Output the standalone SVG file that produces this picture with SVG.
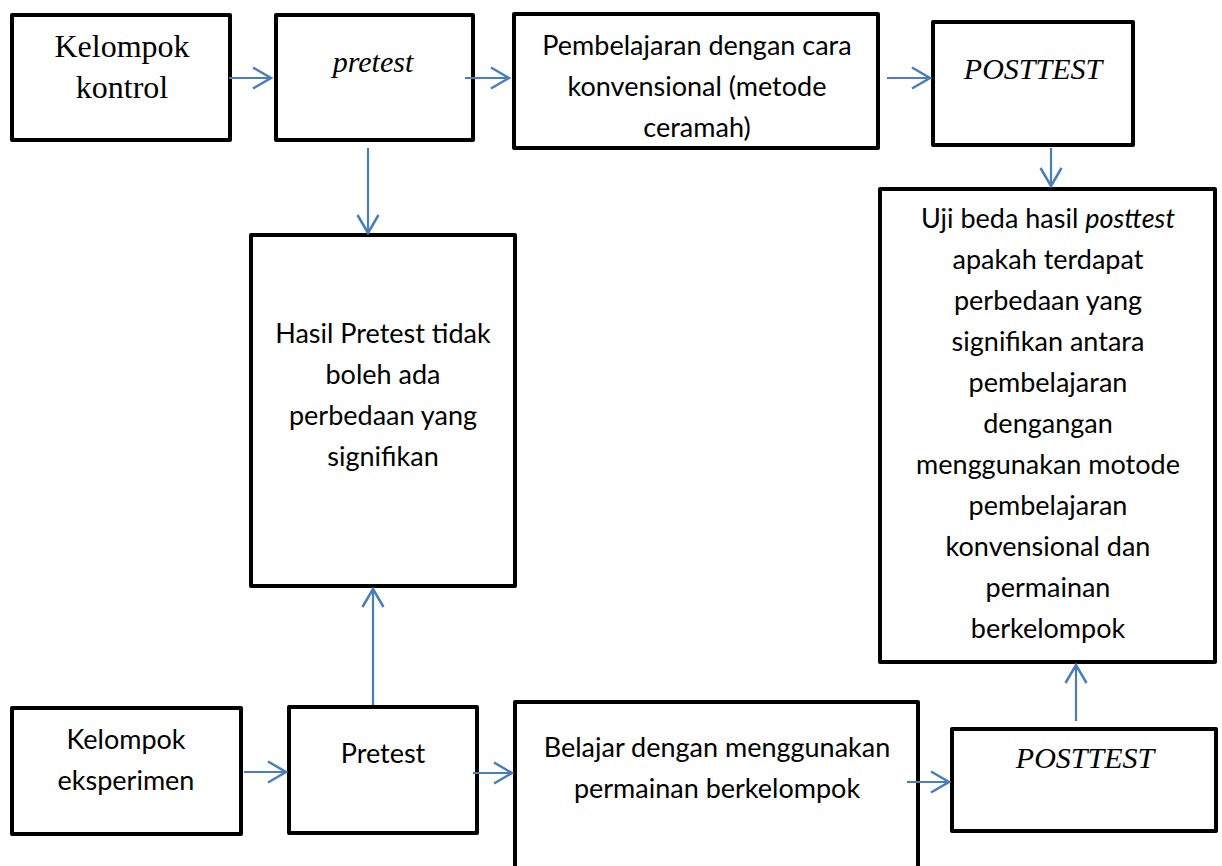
<svg xmlns="http://www.w3.org/2000/svg" width="1222" height="866" viewBox="0 0 1222 866">
<style>
.box{fill:#fff;stroke:#000;stroke-width:4;stroke-linejoin:round}
.c{font-family:Lato,"Open Sans","Liberation Sans",sans-serif;font-size:27px;fill:#000;text-anchor:middle}
.t{font-family:"Liberation Serif","Times New Roman",serif;font-size:32px;fill:#000;text-anchor:middle}
.ti{font-family:"Liberation Serif","Times New Roman",serif;font-size:30px;font-style:italic;fill:#000;text-anchor:middle}
.con{stroke:#4a7ebb;stroke-width:2.2;fill:none}
</style>
<defs>
<marker id="ah" markerUnits="userSpaceOnUse" markerWidth="26" markerHeight="28" viewBox="-22 -14 26 28" refX="0" refY="0" orient="auto">
<path d="M-18,-10.5 L0,0 L-18,10.5" fill="none" stroke="#4a7ebb" stroke-width="2.5"/>
</marker>
</defs>
<rect width="1222" height="866" fill="#fff"/>
<g id="kelompok-kontrol">
<rect class="box" x="12" y="15" width="218" height="125"/>
<text class="t" x="122" y="57">Kelompok</text>
<text class="t" x="122" y="98">kontrol</text>
</g>
<g id="pretest-kontrol">
<rect class="box" x="276" y="15" width="197" height="125"/>
<text class="ti" x="373" y="72">pretest</text>
</g>
<g id="pembelajaran-konvensional">
<rect class="box" x="514" y="14" width="364" height="134"/>
<text class="c" x="697" y="55">Pembelajaran dengan cara</text>
<text class="c" x="697" y="96">konvensional (metode</text>
<text class="c" x="697" y="137">ceramah)</text>
</g>
<g id="posttest-kontrol">
<rect class="box" x="933" y="22" width="200" height="123"/>
<text class="ti" x="1033" y="79">POSTTEST</text>
</g>
<g id="hasil-pretest">
<rect class="box" x="251" y="235" width="264" height="351"/>
<text class="c" x="383" y="343">Hasil Pretest tidak</text>
<text class="c" x="383" y="384">boleh ada</text>
<text class="c" x="383" y="425">perbedaan yang</text>
<text class="c" x="383" y="466">signifikan</text>
</g>
<g id="uji-beda">
<rect class="box" x="880" y="189" width="335" height="473"/>
<text class="c" x="1048" y="228">Uji beda hasil <tspan font-style="italic">posttest</tspan></text>
<text class="c" x="1048" y="269">apakah terdapat</text>
<text class="c" x="1048" y="310">perbedaan yang</text>
<text class="c" x="1048" y="351">signifikan antara</text>
<text class="c" x="1048" y="392">pembelajaran</text>
<text class="c" x="1048" y="433">dengangan</text>
<text class="c" x="1048" y="474">menggunakan motode</text>
<text class="c" x="1048" y="515">pembelajaran</text>
<text class="c" x="1048" y="556">konvensional dan</text>
<text class="c" x="1048" y="597">permainan</text>
<text class="c" x="1048" y="638">berkelompok</text>
</g>
<g id="kelompok-eksperimen">
<rect class="box" x="12" y="708" width="229" height="126"/>
<text class="c" x="126" y="749">Kelompok</text>
<text class="c" x="126" y="790">eksperimen</text>
</g>
<g id="pretest-eksperimen">
<rect class="box" x="289" y="707" width="188" height="126"/>
<text class="c" x="383" y="763">Pretest</text>
</g>
<g id="belajar-permainan">
<rect class="box" x="515" y="702" width="403" height="180"/>
<text class="c" x="717" y="757">Belajar dengan menggunakan</text>
<text class="c" x="717" y="798">permainan berkelompok</text>
</g>
<g id="posttest-eksperimen">
<rect class="box" x="952" y="729" width="264" height="102"/>
<text class="ti" x="1085" y="768">POSTTEST</text>
</g>
<g id="connectors">
<line class="con" x1="229" y1="78" x2="271" y2="78" marker-end="url(#ah)"/>
<line class="con" x1="465" y1="78" x2="509" y2="78" marker-end="url(#ah)"/>
<line class="con" x1="887" y1="78" x2="930" y2="78" marker-end="url(#ah)"/>
<line class="con" x1="1051" y1="148" x2="1051" y2="186" marker-end="url(#ah)"/>
<line class="con" x1="368" y1="148" x2="368" y2="233" marker-end="url(#ah)"/>
<line class="con" x1="373" y1="705" x2="373" y2="589" marker-end="url(#ah)"/>
<line class="con" x1="244" y1="772" x2="286" y2="772" marker-end="url(#ah)"/>
<line class="con" x1="473" y1="773" x2="512" y2="773" marker-end="url(#ah)"/>
<line class="con" x1="907" y1="782" x2="949" y2="782" marker-end="url(#ah)"/>
<line class="con" x1="1076" y1="721" x2="1076" y2="665" marker-end="url(#ah)"/>
</g>
</svg>
